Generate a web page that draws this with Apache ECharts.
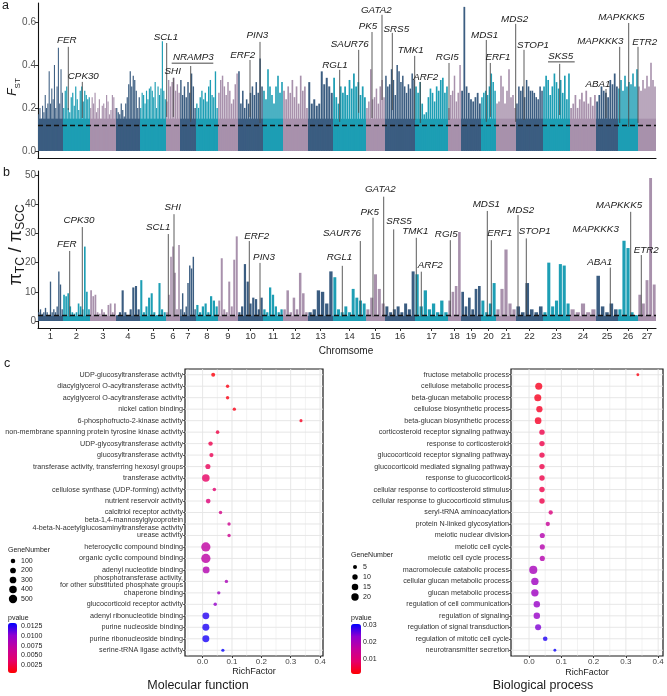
<!DOCTYPE html>
<html>
<head>
<meta charset="utf-8">
<title>FST, pi ratio and GO enrichment</title>
<script src="https://cdn.jsdelivr.net/npm/echarts@6/dist/echarts.min.js"></script>
<style>
  html, body { margin: 0; padding: 0; background: #fff; }
  #main { width: 667px; height: 696px; }
</style>
</head>
<body>
<div id="main"></div>
<script>
// chromosome lengths (same arbitrary unit for both Manhattan panels)
var chrLen = [25, 27, 26, 24, 26, 14, 16, 22, 20, 25, 20, 25, 25, 33, 19, 30, 33, 13, 20, 15, 20, 27, 27, 26, 22, 20, 18];
var chrColors = ['#3b5d81', '#1d9eb4', '#a891ac'];

// panel a: FST peaks per chromosome, read left to right
var fstPeaks = [
  [0.17, 0.2, 0.15, 0.21, 0.18, 0.26, 0.2, 0.22, 0.37, 0.22, 0.29, 0.24, 0.4, 0.2, 0.3, 0.48, 0.22, 0.38, 0.27],
  [0.2, 0.28, 0.3, 0.2, 0.18, 0.25, 0.27, 0.21, 0.3, 0.24, 0.19, 0.28, 0.3, 0.23, 0.28, 0.26, 0.24, 0.25],
  [0.2, 0.25, 0.22, 0.27, 0.18, 0.2, 0.24, 0.15, 0.21, 0.22, 0.2, 0.26, 0.23, 0.17, 0.19, 0.26, 0.25, 0.2],
  [0.2, 0.18, 0.17, 0.22, 0.19, 0.16, 0.22, 0.25, 0.31, 0.37, 0.3, 0.35, 0.33, 0.28, 0.2, 0.25],
  [0.2, 0.27, 0.26, 0.22, 0.28, 0.24, 0.29, 0.3, 0.28, 0.25, 0.32, 0.2, 0.3, 0.26, 0.29, 0.51, 0.28, 0.24],
  [0.23, 0.33, 0.3, 0.32, 0.34, 0.28, 0.31, 0.27],
  [0.33, 0.26, 0.3, 0.25, 0.32, 0.27, 0.36, 0.3, 0.2],
  [0.22, 0.2, 0.25, 0.28, 0.24, 0.27, 0.23, 0.3, 0.33, 0.26, 0.25, 0.37, 0.2],
  [0.27, 0.33, 0.35, 0.3, 0.26, 0.32, 0.28, 0.22, 0.24, 0.31, 0.36],
  [0.37, 0.22, 0.28, 0.2, 0.24, 0.22, 0.27, 0.3, 0.26, 0.32, 0.27, 0.43, 0.3],
  [0.28, 0.24, 0.38, 0.3, 0.26, 0.22, 0.3, 0.35, 0.27, 0.32],
  [0.28, 0.24, 0.3, 0.27, 0.33, 0.25, 0.3, 0.22, 0.35, 0.28, 0.3, 0.2],
  [0.32, 0.22, 0.24, 0.21, 0.22, 0.37, 0.31, 0.34, 0.3, 0.27],
  [0.34, 0.25, 0.22, 0.3, 0.27, 0.3, 0.26, 0.33, 0.29, 0.36, 0.3, 0.32, 0.26, 0.3, 0.25],
  [0.2, 0.23, 0.38, 0.24, 0.25, 0.29, 0.22, 0.3, 0.33, 0.25],
  [0.35, 0.3, 0.31, 0.38, 0.33, 0.26, 0.4, 0.37, 0.32, 0.35, 0.3, 0.27, 0.31, 0.29, 0.36, 0.33],
  [0.3, 0.27, 0.32, 0.22, 0.17, 0.18, 0.25, 0.29, 0.27, 0.23, 0.3, 0.28, 0.33, 0.34, 0.27, 0.3],
  [0.2, 0.26, 0.28, 0.35, 0.23, 0.27, 0.4],
  [0.28, 0.67, 0.3, 0.27, 0.24, 0.23, 0.25, 0.27, 0.22],
  [0.25, 0.27, 0.28, 0.26, 0.3, 0.36, 0.32, 0.28],
  [0.22, 0.23, 0.35, 0.3, 0.22, 0.28, 0.38, 0.25, 0.26, 0.2],
  [0.22, 0.3, 0.28, 0.3, 0.25, 0.33, 0.3, 0.28, 0.28, 0.27, 0.25, 0.24, 0.3, 0.28],
  [0.3, 0.35, 0.33, 0.26, 0.3, 0.36, 0.32, 0.29, 0.33, 0.27, 0.35, 0.24, 0.36],
  [0.2, 0.22, 0.26, 0.2, 0.24, 0.27, 0.23, 0.28, 0.22, 0.25, 0.21, 0.26],
  [0.23, 0.26, 0.3, 0.28, 0.27, 0.25, 0.33, 0.31, 0.36, 0.3],
  [0.29, 0.33, 0.28, 0.35, 0.3, 0.32, 0.31, 0.36, 0.3, 0.38],
  [0.3, 0.28, 0.33, 0.29, 0.35, 0.3, 0.41, 0.33, 0.3]
];
var fstBase = 0.15;
var fstCut = 0.115;
var fstTicks = [0, 0.2, 0.4, 0.6];

// panel b: pi(TC)/pi(SCC) peaks per chromosome
var piPeaks = [
  [3, 4, 2.5, 3, 4.5, 3, 2, 13.5, 3, 4, 3, 5, 17, 12.5, 4],
  [9, 8.5, 9.5, 5, 3, 2.5, 3, 6, 5, 4, 25.5, 10, 4],
  [10.5, 8.5, 9, 3, 2.5, 4, 3, 2, 5.5, 6, 3, 6],
  [2, 3, 10.5, 3, 2, 4, 11.5, 12, 4],
  [14, 3, 5, 8, 9.5, 3, 2, 13, 4, 3],
  [3, 9, 22, 25.5, 16.5, 4, 26],
  [4, 9.5, 3, 5, 13, 19, 18, 22, 4],
  [5.5, 3, 5, 6, 3, 8.5, 7, 5],
  [7, 21.5, 4, 3, 13.5, 5, 21, 29],
  [3, 5, 19.5, 13.5, 6, 8, 7.5, 4, 8],
  [4, 3, 11.5, 9, 5, 3, 4],
  [4, 10.5, 3, 8, 4, 16.5, 9.5, 3],
  [3, 4, 10.5, 10, 6, 17],
  [15, 4, 3, 5, 3, 11, 8, 7, 6],
  [4, 8, 16, 11, 6],
  [5, 3, 4, 5, 3, 6, 4, 17],
  [16, 5, 10.5, 4, 6, 3, 7, 3],
  [7, 10, 12, 30.5],
  [10, 5, 8, 4, 11, 12],
  [7, 3, 6, 13],
  [4, 11, 24.5, 6, 4],
  [5, 3, 13, 4, 3, 5],
  [3, 20, 5, 7, 19.5, 19, 6],
  [4, 3, 6, 3, 4],
  [15.5, 5, 3, 6, 4],
  [4, 27.5, 25, 3, 2],
  [9, 6, 14, 49, 12.5]
];
var piBase = 1.8;
var piCut = 2;
var piTicks = [0, 10, 20, 30, 40, 50];

// gene labels: name, text x, text y, line x, line top, line bottom, [underline from, to]
var fstGenes = [
  ['FER', 28.7, 0.513, 30.3, 0.484, 0.19],
  ['CPK30', 45.3, 0.346, 44.3, 0.321, 0.153],
  ['SCL1', 128, 0.529, 128.7, 0.502, 0.158],
  ['SHI', 134.7, 0.369, 135.3, 0.34, 0.158],
  ['NRAMP3', 155.3, 0.436, 152.7, 0.395, 0.135, 133.7, 175.3],
  ['ERF2', 204.7, 0.447, 212, 0.423, 0.158],
  ['PIN3', 219.3, 0.536, 222, 0.507, 0.13],
  ['RGL1', 297, 0.4, 301.7, 0.377, 0.135],
  ['SAUR76', 311.7, 0.496, 320.7, 0.47, 0.177],
  ['PK5', 330, 0.578, 334, 0.553, 0.153],
  ['GATA2', 338.3, 0.656, 344, 0.633, 0.237],
  ['SRS5', 358.3, 0.566, 354.3, 0.549, 0.19],
  ['TMK1', 372.7, 0.467, 376.7, 0.442, 0.144],
  ['ARF2', 387.7, 0.341, 382.3, 0.321, 0.13],
  ['RGI5', 409.3, 0.434, 411, 0.409, 0.144],
  ['MDS1', 446.7, 0.54, 448.3, 0.516, 0.135],
  ['ERF1', 460, 0.434, 452.3, 0.409, 0.158],
  ['MDS2', 476.7, 0.614, 477.7, 0.591, 0.135],
  ['STOP1', 495, 0.49, 486, 0.47, 0.144],
  ['SKS5', 522.7, 0.442, 521.7, 0.405, 0.167, 510, 536.7],
  ['ABA1', 560, 0.312, 568, 0.288, 0.153],
  ['MAPKKK3', 562.3, 0.508, 581.7, 0.484, 0.13],
  ['MAPKKK5', 583.3, 0.622, 590.7, 0.595, 0.112],
  ['ETR2', 606.7, 0.506, 600, 0.484, 0.13]
];
var piGenes = [
  ['FER', 28.7, 26.3, 31.7, 24.0, 1.5],
  ['CPK30', 41, 34.6, 44.3, 32.2, 1.5],
  ['SCL1', 120.3, 32.1, 130.3, 29.8, 1.5],
  ['SHI', 134.7, 38.8, 136, 36.6, 1.5],
  ['ERF2', 218.7, 29.2, 211.3, 27.4, 1.5],
  ['PIN3', 226, 21.9, 222, 19.9, 1.5],
  ['SAUR76', 304, 30.1, 322.3, 27.4, 1.5],
  ['RGL1', 301.5, 21.9, 304.3, 18.9, 1.5],
  ['PK5', 331.7, 37.4, 335, 35.4, 1.5],
  ['GATA2', 342.3, 45.2, 345.7, 42.6, 1.5],
  ['SRS5', 361, 34.3, 355.7, 31.4, 1.5],
  ['TMK1', 377.3, 30.6, 378.3, 28.5, 1.5],
  ['ARF2', 392.3, 19.2, 383.3, 16.9, 1.5],
  ['RGI5', 408.3, 29.7, 412.3, 27.7, 1.5],
  ['MDS1', 448.3, 40, 449.3, 37.7, 1.5],
  ['ERF1', 461.7, 30, 453.3, 27.7, 1.5],
  ['MDS2', 482.7, 37.8, 480, 36.3, 1.5],
  ['STOP1', 496.7, 30.8, 488.3, 28.3, 1.5],
  ['ABA1', 561.7, 20.1, 572.3, 18.3, 1.5],
  ['MAPKKK3', 557.7, 31.5, null, null, null],
  ['MAPKKK5', 581, 39.5, 592.7, 37.4, 1.5],
  ['ETR2', 608.3, 24.1, 603.3, 22.6, 1.5]
];

// panel c left: molecular function
var mfTerms = [
  'UDP-glucosyltransferase activity',
  'diacylglycerol O-acyltransferase activity',
  'acylglycerol O-acyltransferase activity',
  'nickel cation binding',
  '6-phosphofructo-2-kinase activity',
  'non-membrane spanning protein tyrosine kinase activity',
  'UDP-glycosyltransferase activity',
  'glucosyltransferase activity',
  'transferase activity, transferring hexosyl groups',
  'transferase activity',
  'cellulose synthase (UDP-forming) activity',
  'nutrient reservoir activity',
  'calcitriol receptor activity',
  'beta-1,4-mannosylglycoprotein\n4-beta-N-acetylglucosaminyltransferase activity',
  'urease activity',
  'heterocyclic compound binding',
  'organic cyclic compound binding',
  'adenyl nucleotide binding',
  'phosphotransferase activity,\nfor other substituted phosphate groups',
  'chaperone binding',
  'glucocorticoid receptor activity',
  'adenyl ribonucleotide binding',
  'purine nucleoside binding',
  'purine ribonucleoside binding',
  'serine-tRNA ligase activity'
];
var mfRich = [0.036, 0.085, 0.085, 0.108, 0.335, 0.051, 0.027, 0.030, 0.018, 0.011, 0.040, 0.019, 0.061,
  0.090, 0.090, 0.011, 0.011, 0.012, 0.081, 0.055, 0.043, 0.011, 0.011, 0.011, 0.069];
var mfCount = [55, 20, 20, 20, 5, 30, 85, 70, 140, 400, 30, 110, 20, 18, 18, 640, 640, 320, 20, 22, 25, 320, 330, 330, 8];
var mfP = [0.0008, 0.0010, 0.0010, 0.0012, 0.0015, 0.0025, 0.0028, 0.0030, 0.0032, 0.0035, 0.0040, 0.0045, 0.0055,
  0.0060, 0.0060, 0.0072, 0.0074, 0.0080, 0.0085, 0.0092, 0.0098, 0.0125, 0.0127, 0.0128, 0.0132];
var mfSizeBreaks = [100, 200, 300, 400, 500];
var mfPBreaks = [0.0125, 0.0100, 0.0075, 0.0050, 0.0025];
var mfPRange = [0.0005, 0.0133];
var mfXRange = [-0.06, 0.41];

// panel c right: biological process
var bpTerms = [
  'fructose metabolic process',
  'cellulose metabolic process',
  'beta-glucan metabolic process',
  'cellulose biosynthetic process',
  'beta-glucan biosynthetic process',
  'corticosteroid receptor signaling pathway',
  'response to corticosteroid',
  'glucocorticoid receptor signaling pathway',
  'glucocorticoid mediated signaling pathway',
  'response to glucocorticoid',
  'cellular response to corticosteroid stimulus',
  'cellular response to glucocorticoid stimulus',
  'seryl-tRNA aminoacylation',
  'protein N-linked glycosylation',
  'meiotic nuclear division',
  'meiotic cell cycle',
  'meiotic cell cycle process',
  'macromolecule catabolic process',
  'cellular glucan metabolic process',
  'glucan metabolic process',
  'regulation of cell communication',
  'regulation of signaling',
  'regulation of signal transduction',
  'regulation of mitotic cell cycle',
  'neurotransmitter secretion'
];
var bpRich = [0.337, 0.030, 0.027, 0.032, 0.028, 0.040, 0.040, 0.040, 0.040, 0.040, 0.040, 0.040, 0.067,
  0.058, 0.041, 0.041, 0.041, 0.013, 0.018, 0.018, 0.024, 0.024, 0.028, 0.050, 0.080];
var bpCount = [2, 18, 18, 14, 16, 10, 10, 10, 10, 10, 10, 10, 6, 6, 9, 9, 9, 24, 20, 20, 15, 15, 13, 7, 2];
var bpP = [0.002, 0.003, 0.003, 0.0035, 0.0035, 0.006, 0.006, 0.006, 0.006, 0.006, 0.006, 0.006, 0.011,
  0.015, 0.018, 0.018, 0.018, 0.020, 0.021, 0.021, 0.022, 0.022, 0.024, 0.029, 0.030];
var bpSizeBreaks = [5, 10, 15, 20];
var bpPBreaks = [0.03, 0.02, 0.01];
var bpPRange = [0.0009, 0.0306];
var bpXRange = [-0.056, 0.415];

var richTicks = [0, 0.1, 0.2, 0.3, 0.4];
var richGrid = [-0.05, 0, 0.05, 0.1, 0.15, 0.2, 0.25, 0.3, 0.35, 0.4];
var pGradient = ['#ff0000', '#e5006a', '#c4009c', '#9000d0', '#0000ff'];

var FONT = '"Liberation Sans", Arial, sans-serif';

var chrStart = [];
(function () {
  var s = 0;
  for (var i = 0; i < chrLen.length; i++) { chrStart.push(s); s += chrLen[i]; }
})();
var genomeLen = chrStart[chrStart.length - 1] + chrLen[chrLen.length - 1];
var chrCentres = chrLen.map(function (len, i) { return chrStart[i] + len / 2; });

function mfDot(n) { return Math.sqrt(9 + 0.12 * n); }
function bpDot(n) { return Math.sqrt(3 + 2.6 * n); }

function buildBars(peaks) {
  var out = [];
  for (var c = 0; c < chrLen.length; c++) {
    var n = peaks[c].length, slot = chrLen[c] / n;
    for (var i = 0; i < n; i++) {
      out.push([chrStart[c] + (i + 0.5) * slot, peaks[c][i], c, slot * 0.8]);
    }
  }
  return out;
}
function buildBase(h) {
  return chrLen.map(function (len, c) { return [chrStart[c] + len / 2, h, c, len]; });
}

function renderBar(params, api) {
  var x = api.value(0), v = api.value(1), c = api.value(2), w = api.value(3);
  var a = api.coord([x - w / 2, v]);
  var b = api.coord([x + w / 2, 0]);
  return {
    type: 'rect',
    shape: { x: a[0], y: a[1], width: b[0] - a[0], height: b[1] - a[1] },
    style: { fill: chrColors[c % 3] }
  };
}

function geneRenderer(genes) {
  return function (params, api) {
    var g = genes[params.dataIndex];
    var kids = [];
    if (g[3] != null) {
      var p = api.coord([g[3], g[4]]), q = api.coord([g[3], g[5]]);
      kids.push({ type: 'line', shape: { x1: p[0], y1: p[1], x2: q[0], y2: q[1] },
        style: { stroke: '#4a4a4a', lineWidth: 0.9 } });
    }
    var t = api.coord([g[1], g[2]]);
    kids.push({ type: 'text', x: t[0], y: t[1],
      style: { text: g[0], align: 'center', verticalAlign: 'middle', fontSize: 9.8,
        fontStyle: 'italic', fontFamily: FONT, fill: '#1a1a1a' } });
    if (g.length > 6) {
      var u1 = api.coord([g[6], g[2]]), u2 = api.coord([g[7], g[2]]);
      kids.push({ type: 'line', shape: { x1: u1[0], y1: t[1] + 6, x2: u2[0], y2: t[1] + 6 },
        style: { stroke: '#333', lineWidth: 0.9 } });
    }
    return { type: 'group', children: kids };
  };
}

// grid lines of the dot plots: items are [x, category index, kind]
function gridLineData(nCat, xr) {
  var out = [];
  richGrid.forEach(function (v) {
    var major = richTicks.some(function (t) { return Math.abs(t - v) < 1e-9; });
    out.push([v, 0, major ? 0 : 1]);
  });
  for (var i = 0; i < nCat; i++) out.push([xr[0], i, 2]);
  return out;
}
function gridRenderer(nCat, xr) {
  return function (params, api) {
    var kind = api.value(2);
    var band = Math.abs(api.size([0, 1])[1]);
    if (kind < 2) {
      var xv = api.value(0);
      var pa = api.coord([xv, 0]), pb = api.coord([xv, nCat - 1]);
      var y1 = Math.min(pa[1], pb[1]) - band / 2, y2 = Math.max(pa[1], pb[1]) + band / 2;
      return { type: 'line', shape: { x1: pa[0], y1: y1, x2: pa[0], y2: y2 },
        style: { stroke: '#e4e4e4', lineWidth: kind === 0 ? 0.9 : 0.5 } };
    }
    var idx = api.value(1);
    var l = api.coord([xr[0], idx]), r = api.coord([xr[1], idx]);
    return { type: 'line', shape: { x1: l[0], y1: l[1], x2: r[0], y2: r[1] },
      style: { stroke: '#e4e4e4', lineWidth: 0.9 } };
  };
}

function chrLabel(v) {
  var best = 0;
  for (var i = 1; i < chrCentres.length; i++) {
    if (Math.abs(chrCentres[i] - v) < Math.abs(chrCentres[best] - v)) best = i;
  }
  return String(best + 1);
}

var dashLine = function (y) {
  return {
    silent: true, symbol: ['none', 'none'], label: { show: false },
    lineStyle: { type: [5, 3], color: '#111', width: 1.3 },
    data: [{ yAxis: y }]
  };
};

var manhattanX = function (showLabels) {
  return {
    type: 'value', min: 0, max: genomeLen,
    axisLine: { show: true, onZero: false, lineStyle: { color: '#111', width: 1.1 } },
    axisTick: { show: showLabels, customValues: chrCentres, length: 3, lineStyle: { color: '#333' } },
    axisLabel: { show: showLabels, customValues: chrCentres, formatter: chrLabel,
      fontSize: 9.5, color: '#333', margin: 3, fontFamily: FONT },
    splitLine: { show: false }
  };
};
var manhattanY = function (min, max, ticks, fmt) {
  return {
    type: 'value', min: min, max: max,
    axisLine: { show: true, onZero: false, lineStyle: { color: '#111', width: 1.1 } },
    axisTick: { show: true, customValues: ticks, length: 3, lineStyle: { color: '#333' } },
    axisLabel: { customValues: ticks, formatter: fmt, fontSize: 10, color: '#555', margin: 2, fontFamily: FONT },
    splitLine: { show: false }
  };
};
var richX = function (xr) {
  return {
    type: 'value', min: xr[0], max: xr[1],
    axisLine: { show: false, onZero: false },
    axisTick: { show: true, customValues: richTicks, length: 2, lineStyle: { color: '#333' } },
    axisLabel: { customValues: richTicks, formatter: function (v) { return v.toFixed(1); },
      fontSize: 8, color: '#444', margin: 2, fontFamily: FONT },
    splitLine: { show: false }
  };
};
var termY = function (terms) {
  return {
    type: 'category', data: terms, inverse: true,
    axisLine: { show: false, onZero: false },
    axisTick: { show: true, alignWithLabel: true, length: 2, lineStyle: { color: '#333', width: 0.8 } },
    axisLabel: { interval: 0, fontSize: 7.2, color: '#333', margin: 2, lineHeight: 7.5, fontFamily: FONT },
    splitLine: { show: false }
  };
};

// graphic texts and legends
var graphics = [];
function addText(x, y, text, size, extra) {
  var st = { text: text, fontSize: size, fontFamily: FONT, fill: '#1a1a1a', align: 'left', verticalAlign: 'middle' };
  for (var k in (extra || {})) st[k] = extra[k];
  graphics.push({ type: 'text', x: x, y: y, style: st, silent: true });
}
addText(2, 6, 'a', 12.5);
addText(3, 173, 'b', 12.5);
addText(4, 364, 'c', 12.5);
graphics.push({ type: 'text', x: 13, y: 87, rotation: Math.PI / 2, silent: true,
  style: { text: '{f|F}{s|ST}', align: 'center', verticalAlign: 'middle', fill: '#1a1a1a',
    rich: { f: { fontSize: 12, fontStyle: 'italic', fontFamily: FONT, lineHeight: 18, verticalAlign: 'middle' },
            s: { fontSize: 8, fontFamily: FONT, lineHeight: 18, verticalAlign: 'bottom' } } } });
graphics.push({ type: 'text', x: 16, y: 245, rotation: Math.PI / 2, silent: true,
  style: { text: '{p|π}{s|TC}{p| / π}{s|SCC}', align: 'center', verticalAlign: 'middle', fill: '#1a1a1a',
    rich: { p: { fontSize: 18, fontFamily: FONT, lineHeight: 22, verticalAlign: 'middle' },
            s: { fontSize: 12, fontFamily: FONT, lineHeight: 22, verticalAlign: 'bottom' } } } });
addText(346, 351, 'Chromsome', 10, { align: 'center' });
addText(254, 672, 'RichFactor', 9, { align: 'center' });
addText(587, 673, 'RichFactor', 9, { align: 'center' });
addText(198, 686, 'Molecular function', 12.5, { align: 'center' });
addText(543, 686, 'Biological process', 12.5, { align: 'center' });

// gene number legends
addText(8, 550, 'GeneNumber', 7);
mfSizeBreaks.forEach(function (n, i) {
  var y = 561 + i * 9.5;
  graphics.push({ type: 'circle', silent: true, shape: { cx: 13, cy: y, r: mfDot(n) / 2 }, style: { fill: '#000' } });
  addText(21, y, String(n), 7);
});
addText(351, 555, 'GeneNumber', 7);
bpSizeBreaks.forEach(function (n, i) {
  var y = 567 + i * 10;
  graphics.push({ type: 'circle', silent: true, shape: { cx: 355, cy: y, r: bpDot(n) / 2 }, style: { fill: '#000' } });
  addText(363, y, String(n), 7);
});
// p-value legends (bars drawn by visualMap)
addText(8, 618, 'pvalue', 7);
mfPBreaks.forEach(function (v) {
  addText(21, 673 - (v - mfPRange[0]) / (mfPRange[1] - mfPRange[0]) * 50, v.toFixed(4), 7);
});
addText(351, 618, 'pvalue', 7);
bpPBreaks.forEach(function (v) {
  addText(363, 674 - (v - bpPRange[0]) / (bpPRange[1] - bpPRange[0]) * 50, v.toFixed(2), 7);
});

var chart = echarts.init(document.getElementById('main'), null, { renderer: 'canvas' });
chart.setOption({
  animation: false,
  backgroundColor: '#fff',
  textStyle: { fontFamily: FONT },
  grid: [
    { left: 38, top: 3, width: genomeLen, height: 155 },
    { left: 38, top: 171, width: genomeLen, height: 157 },
    { left: 185, top: 369, width: 138, height: 287, show: true, borderColor: '#1a1a1a', borderWidth: 1.2, backgroundColor: 'transparent' },
    { left: 511, top: 369, width: 152, height: 287, show: true, borderColor: '#1a1a1a', borderWidth: 1.2, backgroundColor: 'transparent' }
  ],
  xAxis: [
    Object.assign(manhattanX(false), { gridIndex: 0 }),
    Object.assign(manhattanX(true), { gridIndex: 1 }),
    Object.assign(richX(mfXRange), { gridIndex: 2 }),
    Object.assign(richX(bpXRange), { gridIndex: 3 })
  ],
  yAxis: [
    Object.assign(manhattanY(-0.033, 0.688, fstTicks, function (v) { return v.toFixed(1); }), { gridIndex: 0 }),
    Object.assign(manhattanY(-2.4, 51.4, piTicks, function (v) { return String(v); }), { gridIndex: 1 }),
    Object.assign(termY(mfTerms), { gridIndex: 2 }),
    Object.assign(termY(bpTerms), { gridIndex: 3 })
  ],
  visualMap: [
    { type: 'continuous', seriesIndex: 7, dimension: 3, min: mfPRange[0], max: mfPRange[1],
      inRange: { color: pGradient }, left: 8, top: 623, itemWidth: 9, itemHeight: 50,
      calculable: false, padding: 0, hoverLink: false },
    { type: 'continuous', seriesIndex: 9, dimension: 3, min: bpPRange[0], max: bpPRange[1],
      inRange: { color: pGradient }, left: 351, top: 624, itemWidth: 10, itemHeight: 50,
      calculable: false, padding: 0, hoverLink: false }
  ],
  graphic: graphics,
  series: [
    { type: 'custom', xAxisIndex: 0, yAxisIndex: 0, renderItem: renderBar, data: buildBase(fstBase), silent: true },
    { type: 'custom', xAxisIndex: 0, yAxisIndex: 0, renderItem: renderBar, data: buildBars(fstPeaks), silent: true },
    { type: 'custom', xAxisIndex: 0, yAxisIndex: 0, renderItem: geneRenderer(fstGenes), silent: true,
      data: fstGenes.map(function (g) { return [g[1], g[2]]; }), markLine: dashLine(fstCut) },
    { type: 'custom', xAxisIndex: 1, yAxisIndex: 1, renderItem: renderBar, data: buildBase(piBase), silent: true },
    { type: 'custom', xAxisIndex: 1, yAxisIndex: 1, renderItem: renderBar, data: buildBars(piPeaks), silent: true },
    { type: 'custom', xAxisIndex: 1, yAxisIndex: 1, renderItem: geneRenderer(piGenes), silent: true,
      data: piGenes.map(function (g) { return [g[1], g[2]]; }), markLine: dashLine(piCut) },
    { type: 'custom', xAxisIndex: 2, yAxisIndex: 2, renderItem: gridRenderer(mfTerms.length, mfXRange),
      data: gridLineData(mfTerms.length, mfXRange), silent: true, z: 1 },
    { type: 'scatter', xAxisIndex: 2, yAxisIndex: 2, z: 3,
      data: mfTerms.map(function (t, i) { return [mfRich[i], t, mfCount[i], mfP[i]]; }),
      symbolSize: function (v) { return mfDot(v[2]); } },
    { type: 'custom', xAxisIndex: 3, yAxisIndex: 3, renderItem: gridRenderer(bpTerms.length, bpXRange),
      data: gridLineData(bpTerms.length, bpXRange), silent: true, z: 1 },
    { type: 'scatter', xAxisIndex: 3, yAxisIndex: 3, z: 3,
      data: bpTerms.map(function (t, i) { return [bpRich[i], t, bpCount[i], bpP[i]]; }),
      symbolSize: function (v) { return bpDot(v[2]); } }
  ]
});
</script>
</body>
</html>
